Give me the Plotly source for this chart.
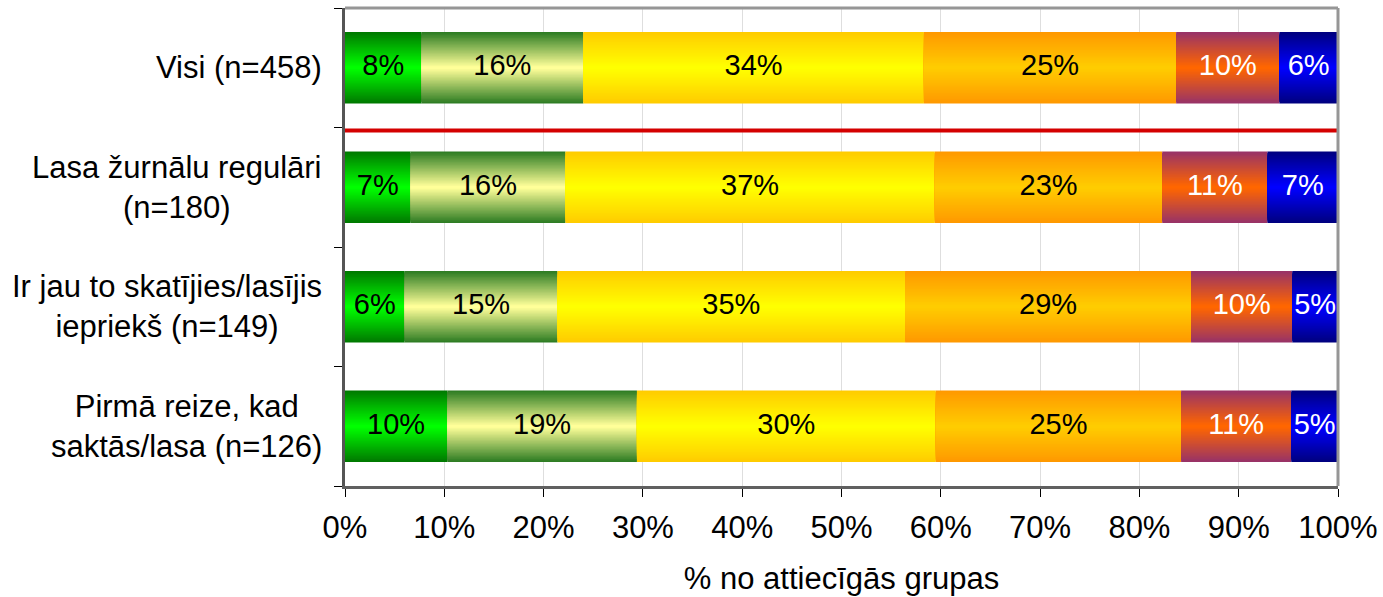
import plotly.graph_objects as go

categories = ["Visi (n=458)", "Lasa žurnālu regulāri<br>(n=180)",
              "Ir jau to skatījies/lasījis<br>iepriekš (n=149)",
              "Pirmā reize, kad<br>saktās/lasa (n=126)"]
seg1 = [7.7, 6.6, 6.0, 10.3]
seg2 = [16.3, 15.6, 15.4, 19.1]
seg3 = [34.3, 37.2, 35.0, 30.1]
seg4 = [25.4, 22.9, 28.8, 24.7]
seg5 = [10.4, 10.6, 10.2, 11.1]
seg6 = [5.9, 7.1, 4.6, 4.7]
series = [seg1, seg2, seg3, seg4, seg5, seg6]
x_ticks = list(range(0, 101, 10))
x_title = "% no attiecīgās grupas"

# gradient (edge colour, centre colour) and label colours per segment
grads = [("#007A00", "#00FF00"), ("#2F7D24", "#FFFF99"), ("#FFCC00", "#FFFF00"),
         ("#FF9900", "#FFCC00"), ("#993366", "#FF6600"), ("#000080", "#0000FF")]
label_colors = ["black", "black", "black", "black", "white", "white"]

FONT = "Liberation Sans, Arial, sans-serif"
FS = 31
FS_BAR = 29
BAR_W = 0.6
N_LAYERS = 24


def hex2rgb(h):
    h = h.lstrip("#")
    return tuple(int(h[i:i + 2], 16) for i in (0, 2, 4))


def lerp(c1, c2, t):
    a, b = hex2rgb(c1), hex2rgb(c2)
    return "rgb(%d,%d,%d)" % tuple(round(a[i] + (b[i] - a[i]) * t) for i in range(3))


ypos = list(range(len(categories)))
y_bounds = [i - 0.5 for i in range(len(categories) + 1)]
fig = go.Figure()

bases = [0.0] * len(categories)
text_x, text_y, text_s, text_c = [], [], [], []
for si, vals in enumerate(series):
    edge, centre = grads[si]
    for k in range(N_LAYERS):
        t = k / (N_LAYERS - 1)
        w = BAR_W * (1 - k / N_LAYERS)
        fig.add_trace(go.Bar(
            y=ypos, x=vals, base=bases, orientation="h", width=w,
            marker=dict(color=lerp(edge, centre, t), line=dict(width=0)),
            showlegend=False, hoverinfo="skip"))
    for ci, v in enumerate(vals):
        text_x.append(bases[ci] + v / 2)
        text_y.append(ci)
        text_s.append(f"{round(v)}%")
        text_c.append(label_colors[si])
    bases = [b + v for b, v in zip(bases, vals)]

fig.add_trace(go.Scatter(x=text_x, y=text_y, mode="text", text=text_s,
                         textfont=dict(family=FONT, size=FS_BAR, color=text_c),
                         showlegend=False, hoverinfo="skip", cliponaxis=False))

# category labels (centred multi-line)
for ci, cat in enumerate(categories):
    fig.add_annotation(x=0, xref="paper", y=ci, yref="y", text=cat,
                       xanchor="right", yanchor="middle", align="center",
                       xshift=-21, showarrow=False,
                       font=dict(family=FONT, size=FS, color="black"))

# red separator line
fig.add_shape(type="line", xref="x", yref="y", x0=-0.7, x1=99.9, y0=0.525, y1=0.525,
              line=dict(color="#D40000", width=4), layer="above")
# top and right frame
fig.add_shape(type="line", xref="paper", yref="paper", x0=0, x1=1, y0=1, y1=1,
              line=dict(color="#969696", width=3), layer="above")
fig.add_shape(type="line", xref="paper", yref="paper", x0=1, x1=1, y0=0, y1=1,
              line=dict(color="#969696", width=3), layer="above")

fig.update_layout(
    barmode="overlay",
    width=1383, height=597,
    margin=dict(l=345, r=45, t=8, b=111, autoexpand=False),
    paper_bgcolor="white", plot_bgcolor="white",
    font=dict(family=FONT, size=FS, color="black"),
    xaxis=dict(range=[0, 100], tickvals=x_ticks, ticktext=[f"{v}%" for v in x_ticks],
               showgrid=True, gridcolor="#DEDEDE", gridwidth=1,
               ticks="outside", ticklen=8, tickcolor="black", tickwidth=1,
               ticklabelstandoff=4, automargin=False,
               showline=True, linecolor="#606060", linewidth=3,
               zeroline=False, fixedrange=True,
               title=dict(text=x_title, standoff=24,
                          font=dict(family=FONT, size=FS, color="black")),
               tickfont=dict(family=FONT, size=FS, color="black")),
    yaxis=dict(range=[3.5, -0.5], tickvals=y_bounds, ticktext=[""] * len(y_bounds),
               showgrid=False, zeroline=False, automargin=False,
               showline=True, linecolor="#555555", linewidth=3,
               ticks="outside", ticklen=8, tickcolor="black", tickwidth=1,
               fixedrange=True),
)

fig.write_html("out.html", config={"displayModeBar": False},
               post_script="document.body.style.margin='0';document.body.style.overflow='hidden';")
